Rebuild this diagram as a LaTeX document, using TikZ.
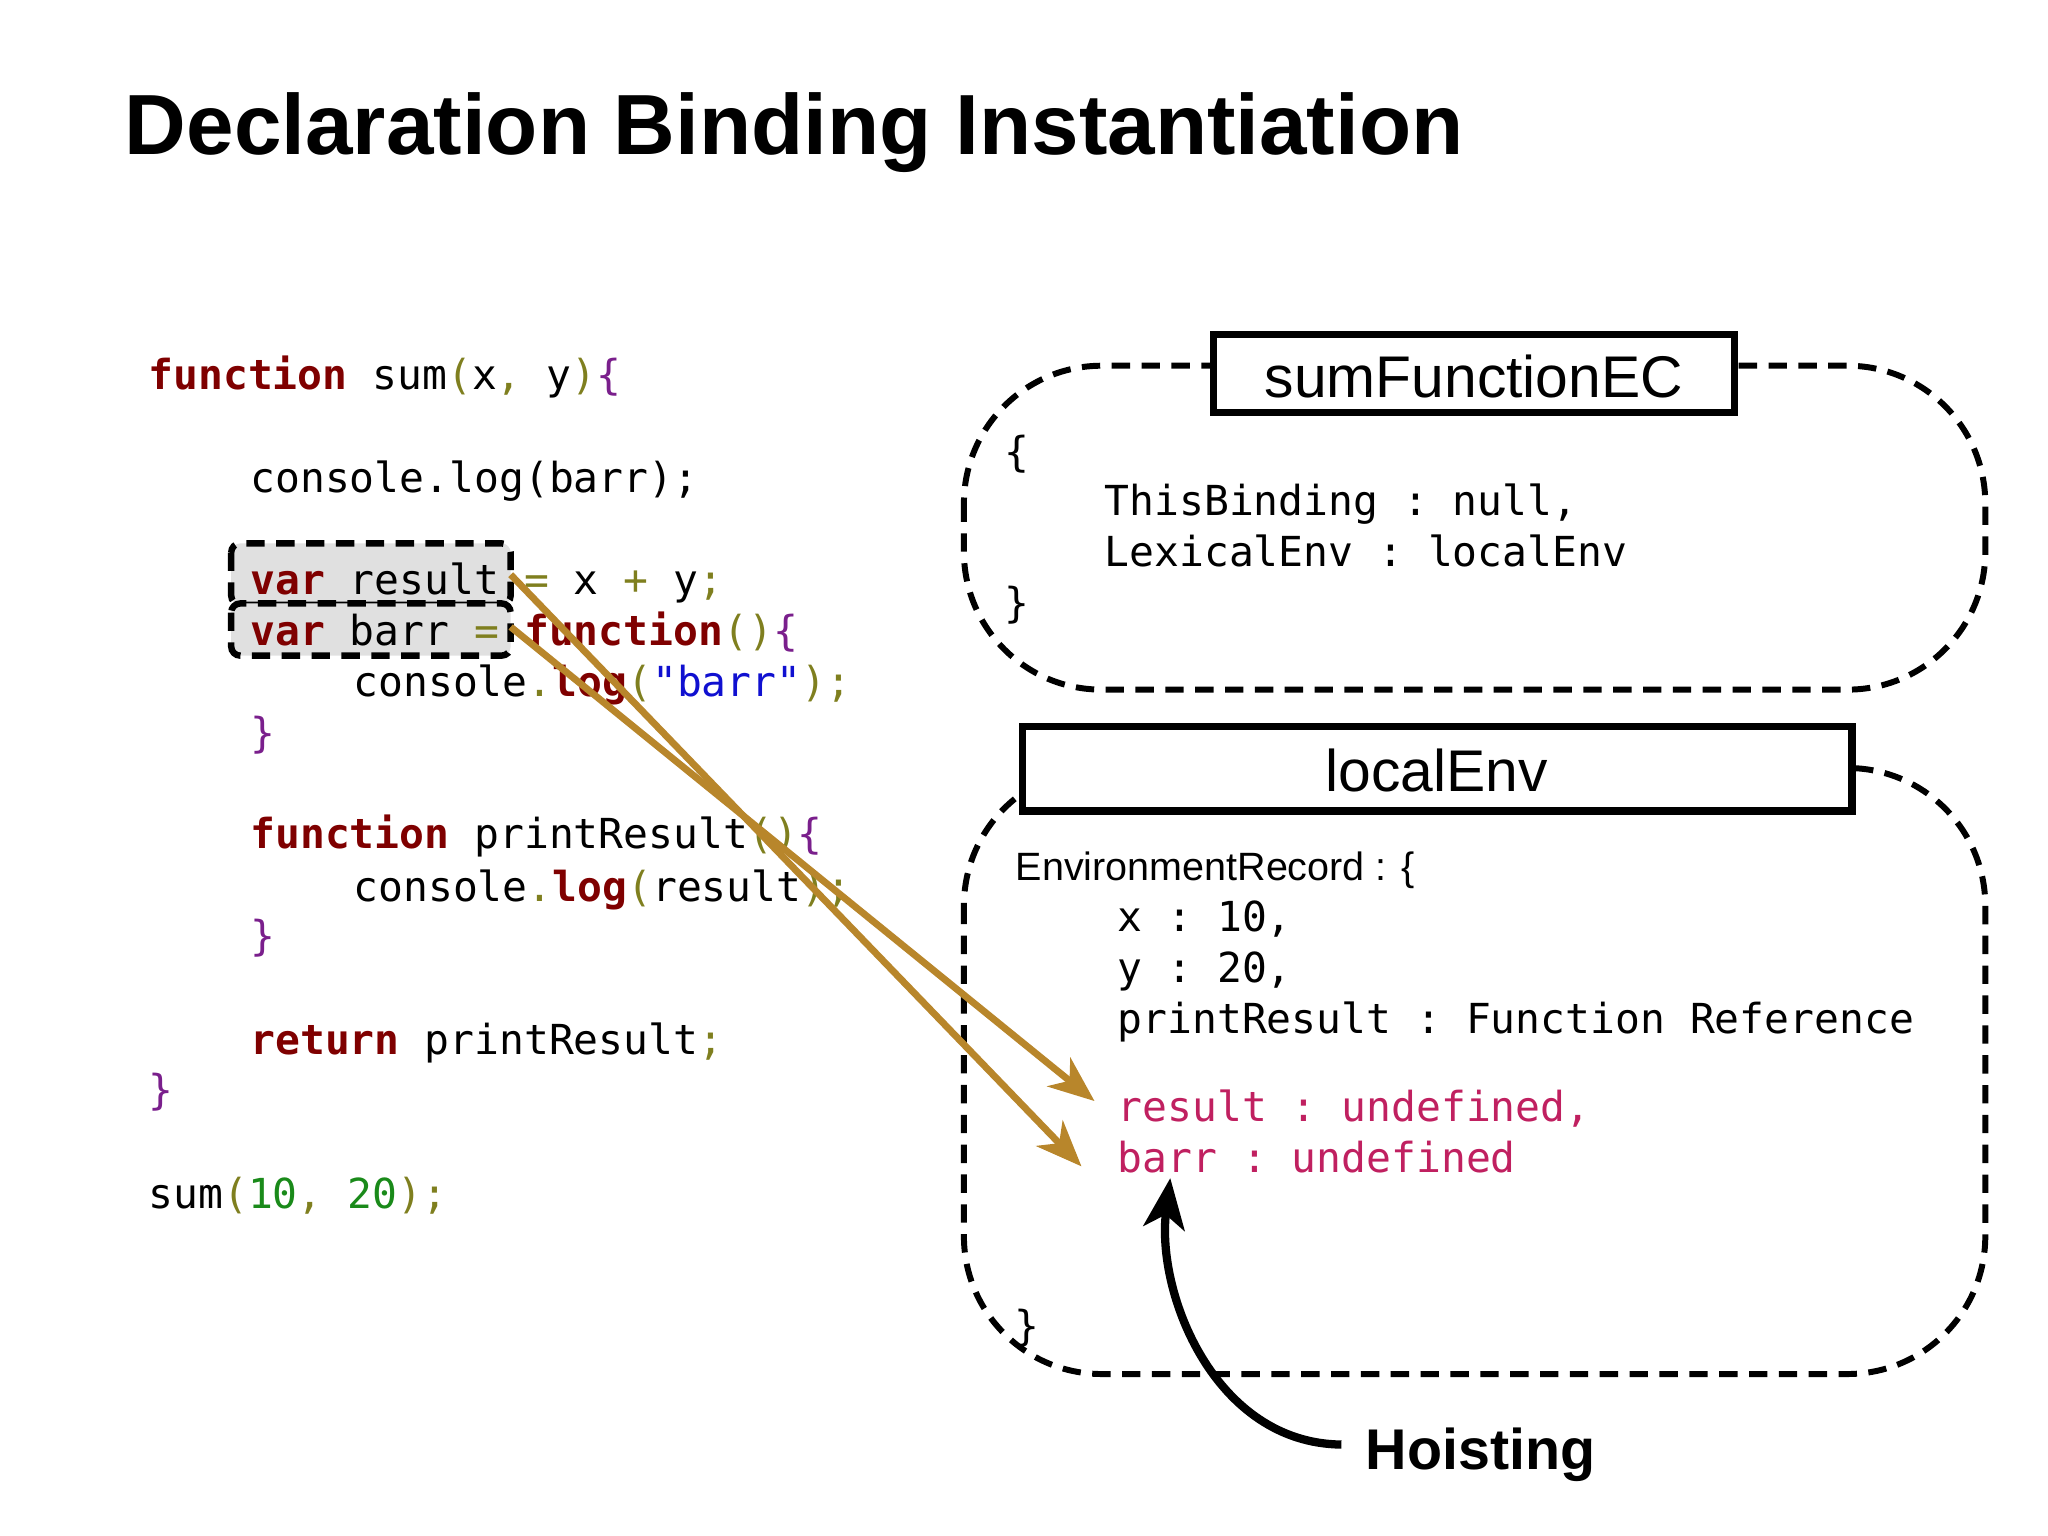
\documentclass[tikz,border=0pt]{standalone}
\usepackage{fontspec}
\setmainfont{Liberation Sans}
\setmonofont{DejaVu Sans Mono}
\usetikzlibrary{arrows.meta}
\definecolor{kw}{HTML}{7F0000}
\definecolor{pu}{HTML}{7A1F8C}
\definecolor{ol}{HTML}{7F7F1F}
\definecolor{st}{HTML}{1010D0}
\definecolor{nu}{HTML}{1A8A1A}
\definecolor{hc}{HTML}{C02060}
\definecolor{gd}{HTML}{B8862B}
\newcommand{\K}[1]{\textcolor{kw}{\bfseries #1}}
\newcommand{\Pu}[1]{\textcolor{pu}{#1}}
\newcommand{\Ol}[1]{\textcolor{ol}{#1}}
\tikzset{
 code/.style={anchor=base west,inner sep=0pt,font=\fontsize{9pt}{11pt}\ttfamily},
 hl/.style={draw,dash pattern=on 4pt off 2.5pt,line width=1.4pt,fill=black!12,rounded corners=2pt},
 env/.style={draw,dash pattern=on 4pt off 2.5pt,line width=1.3pt,rounded corners=30pt},
 garr/.style={draw=gd,line width=1.5pt,-{Stealth[length=10pt,width=8pt,inset=3pt]}},
}
\begin{document}
\begin{tikzpicture}[x=0.01cm,y=-0.01cm]
\useasboundingbox (0,0) rectangle (1568,1176);
\node[anchor=base west,inner sep=0pt,font=\fontsize{18.6pt}{22pt}\bfseries] (title) at (95,118) {Declaration Binding Instantiation};
% highlight boxes
\draw[hl] (177,416) rectangle (391,463);
\draw[hl] (177,462) rectangle (391,502);
\coordinate (rs) at (391,440);
\coordinate (bs) at (391,480);
% code
\node[code] (c1) at (113,298) {\K{function} sum\Ol{(}x\Ol{,} y\Ol{)}\Pu{\{}};
\node[code] (c2) at (191,377) {console.log(barr);};
\node[code] (c3) at (191,455) {\K{var} result \Ol{=} x \Ol{+} y\Ol{;}};
\node[code] (c4) at (191,494) {\K{var} barr \Ol{=} \K{function}\Ol{()}\Pu{\{}};
\node[code] (c5) at (270,533) {console\Ol{.}\K{log}\Ol{(}\textcolor{st}{"barr"}\Ol{);}};
\node[code] (c6) at (191,572) {\Pu{\}}};
\node[code] (c7) at (191,650) {\K{function} printResult\Ol{()}\Pu{\{}};
\node[code] (c8) at (270,690) {console\Ol{.}\K{log}\Ol{(}result\Ol{);}};
\node[code] (c9) at (191,728) {\Pu{\}}};
\node[code] (c10) at (191,807) {\K{return} printResult\Ol{;}};
\node[code] (c11) at (113,846) {\Pu{\}}};
\node[code] (c12) at (113,925) {sum\Ol{(}\textcolor{nu}{10}\Ol{,} \textcolor{nu}{20}\Ol{);}};
% EC box
\draw[env] (738,280) rectangle (1520,528);
\draw[line width=1.6pt,fill=white] (929,256) rectangle (1328,316);
\node[inner sep=0pt,font=\fontsize{12.8pt}{14pt}\selectfont] (ec) at (1128.5,288) {sumFunctionEC};
\node[code] (e1) at (768,357) {\{};
\node[code] (e2) at (845,395) {ThisBinding : null,};
\node[code] (e3) at (845,434) {LexicalEnv : localEnv};
\node[code] (e4) at (768,473) {\}};
% local env
\draw[env] (738,588) rectangle (1520,1052);
\draw[line width=1.6pt,fill=white] (783,556) rectangle (1418,621);
\node[inner sep=0pt,font=\fontsize{12.8pt}{14pt}\selectfont] (le) at (1100,590) {localEnv};
\node[anchor=base west,inner sep=0pt,font=\fontsize{8.6pt}{10pt}\selectfont] (er) at (777,674) {EnvironmentRecord : \{};
\node[code] (l1) at (855,713) {x : 10,};
\node[code] (l2) at (855,752) {y : 20,};
\node[code] (l3) at (855,791) {printResult : Function Reference};
\node[code,text=hc] (l4) at (855,859) {result : undefined,};
\node[code,text=hc] (l5) at (855,898) {barr : undefined};
\node[code] (l6) at (776,1026) {\}};
\coordinate (t1) at (828,893);
\coordinate (t2) at (838,843);
\draw[garr] (rs) -- (t1);
\draw[garr] (bs) -- (t2);
% hoisting
\node[anchor=base west,inner sep=0pt,font=\fontsize{12.5pt}{14pt}\bfseries] (ho) at (1045,1125) {Hoisting};
\coordinate (hs) at (1027,1106);
\coordinate (ht) at (896,902);
\draw[line width=1.8pt,-{Stealth[length=11pt,width=9pt,inset=3pt]}] (hs) .. controls (930,1105) and (885,990) .. (ht);
\end{tikzpicture}
\end{document}
